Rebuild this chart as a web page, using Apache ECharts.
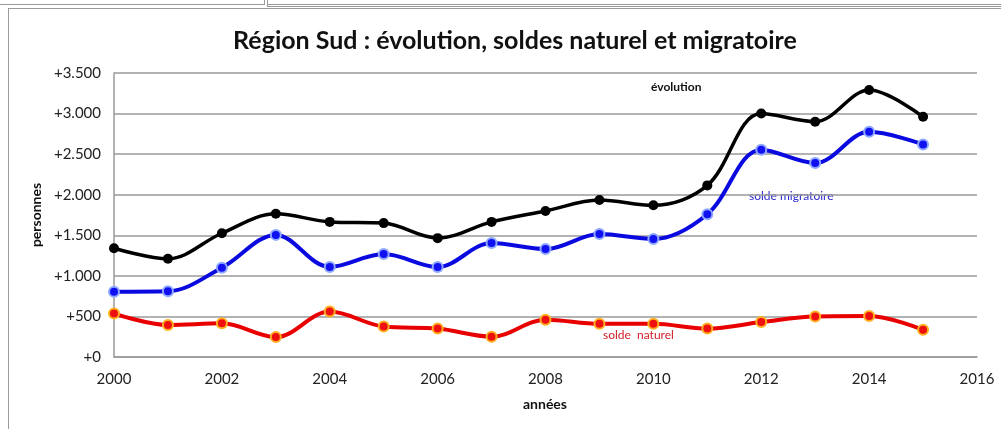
<!DOCTYPE html>
<html>
<head>
<meta charset="utf-8">
<script src="https://cdn.jsdelivr.net/npm/echarts@6/dist/echarts.min.js"></script>
<style>
  html, body { margin: 0; padding: 0; background: #fff; }
  #wrap { position: relative; width: 1001px; height: 429px; overflow: hidden; background: #fff; }
  .box { position: absolute; border: 1px solid #9a9a9a; }
  #chart { position: absolute; left: 0; top: 0; width: 1001px; height: 429px; }
</style>
</head>
<body>
<div id="wrap">
  <div class="box" style="left:-2px; top:-10px; width:265px; height:13px;"></div>
  <div class="box" style="left:267px; top:-10px; width:740px; height:13px; border-bottom:3px double #9a9a9a;"></div>
  <div class="box" style="left:8px; top:8px; width:1000px; height:430px;"></div>
  <div id="chart"></div>
</div>
<script>
// années
const years = [2000, 2001, 2002, 2003, 2004, 2005, 2006, 2007, 2008, 2009, 2010, 2011, 2012, 2013, 2014, 2015];
// évolution de la population
const evolution = [1340, 1210, 1525, 1765, 1665, 1650, 1465, 1665, 1800, 1935, 1870, 2115, 3000, 2900, 3290, 2960];
// solde migratoire
const migratoire = [805, 810, 1100, 1505, 1110, 1270, 1110, 1405, 1330, 1515, 1455, 1760, 2555, 2390, 2775, 2620];
// solde naturel
const naturel = [535, 395, 415, 245, 560, 375, 350, 250, 460, 410, 410, 350, 430, 500, 505, 335];

const pairs = arr => years.map((y, i) => [y, arr[i]]);

// format "+3.500"
function fmt (v) {
  if (v >= 1000) {
    const k = Math.floor(v / 1000);
    const r = String(v % 1000).padStart(3, '0');
    return '+' + k + '.' + r;
  }
  return '+' + v;
}

const chart = echarts.init(document.getElementById('chart'), null, { renderer: 'canvas' });
const font = 'Lato, "Open Sans", sans-serif';

chart.setOption({
  animation: false,
  textStyle: { fontFamily: font },
  title: {
    text: 'Région Sud : évolution, soldes naturel et migratoire',
    left: 510,
    top: 23,
    textAlign: 'center',
    textStyle: { fontFamily: font, fontSize: 25, fontWeight: 'bold', color: '#111' }
  },
  grid: { left: 114, right: 24, top: 73, bottom: 72 },
  xAxis: {
    type: 'value',
    min: 2000,
    max: 2016,
    interval: 2,
    axisLine: { show: true, lineStyle: { color: '#9a9a9a', width: 1.5 } },
    axisTick: { show: false },
    splitLine: { show: false },
    axisLabel: { color: '#222', fontSize: 15, margin: 15, formatter: v => String(v) }
  },
  yAxis: {
    type: 'value',
    min: 0,
    max: 3500,
    interval: 500,
    name: 'personnes',
    nameLocation: 'middle',
    nameGap: 70,
    nameTextStyle: { fontFamily: font, fontSize: 14, fontWeight: 'bold', color: '#111' },
    axisLine: { show: true, lineStyle: { color: '#9a9a9a', width: 1.5 } },
    axisTick: { show: false },
    splitLine: { lineStyle: { color: '#9a9a9a', width: 1.5 } },
    axisLabel: { color: '#222', fontSize: 15, margin: 13, formatter: fmt }
  },
  graphic: [
    { type: 'text', left: 523, top: 397, style: { text: 'années', font: 'bold 14px ' + font, fill: '#111' } },
    { type: 'text', left: 651, top: 81, style: { text: 'évolution', font: 'bold 12px ' + font, fill: '#111' } },
    { type: 'text', left: 749, top: 190, style: { text: 'solde migratoire', font: '12px ' + font, fill: '#2a2acc' } },
    { type: 'text', left: 603, top: 329, style: { text: 'solde  naturel', font: '12px ' + font, fill: '#d0202a' } }
  ],
  series: [
    {
      name: 'évolution',
      type: 'line',
      data: pairs(evolution),
      smooth: 0.35,
      symbol: 'circle',
      symbolSize: 10,
      lineStyle: { color: '#000', width: 3.5 },
      itemStyle: { color: '#000' },
      z: 3
    },
    {
      name: 'solde migratoire',
      type: 'line',
      data: pairs(migratoire),
      smooth: 0.35,
      symbol: 'circle',
      symbolSize: 10,
      lineStyle: { color: '#0a0ae0', width: 4 },
      itemStyle: { color: '#1010f0', borderColor: '#8fa8ff', borderWidth: 2 },
      z: 2
    },
    {
      name: 'solde naturel',
      type: 'line',
      data: pairs(naturel),
      smooth: 0.35,
      symbol: 'circle',
      symbolSize: 10,
      lineStyle: { color: '#e80000', width: 4 },
      itemStyle: { color: '#ee1010', borderColor: '#ffb020', borderWidth: 2 },
      z: 2
    }
  ]
});
</script>
</body>
</html>
